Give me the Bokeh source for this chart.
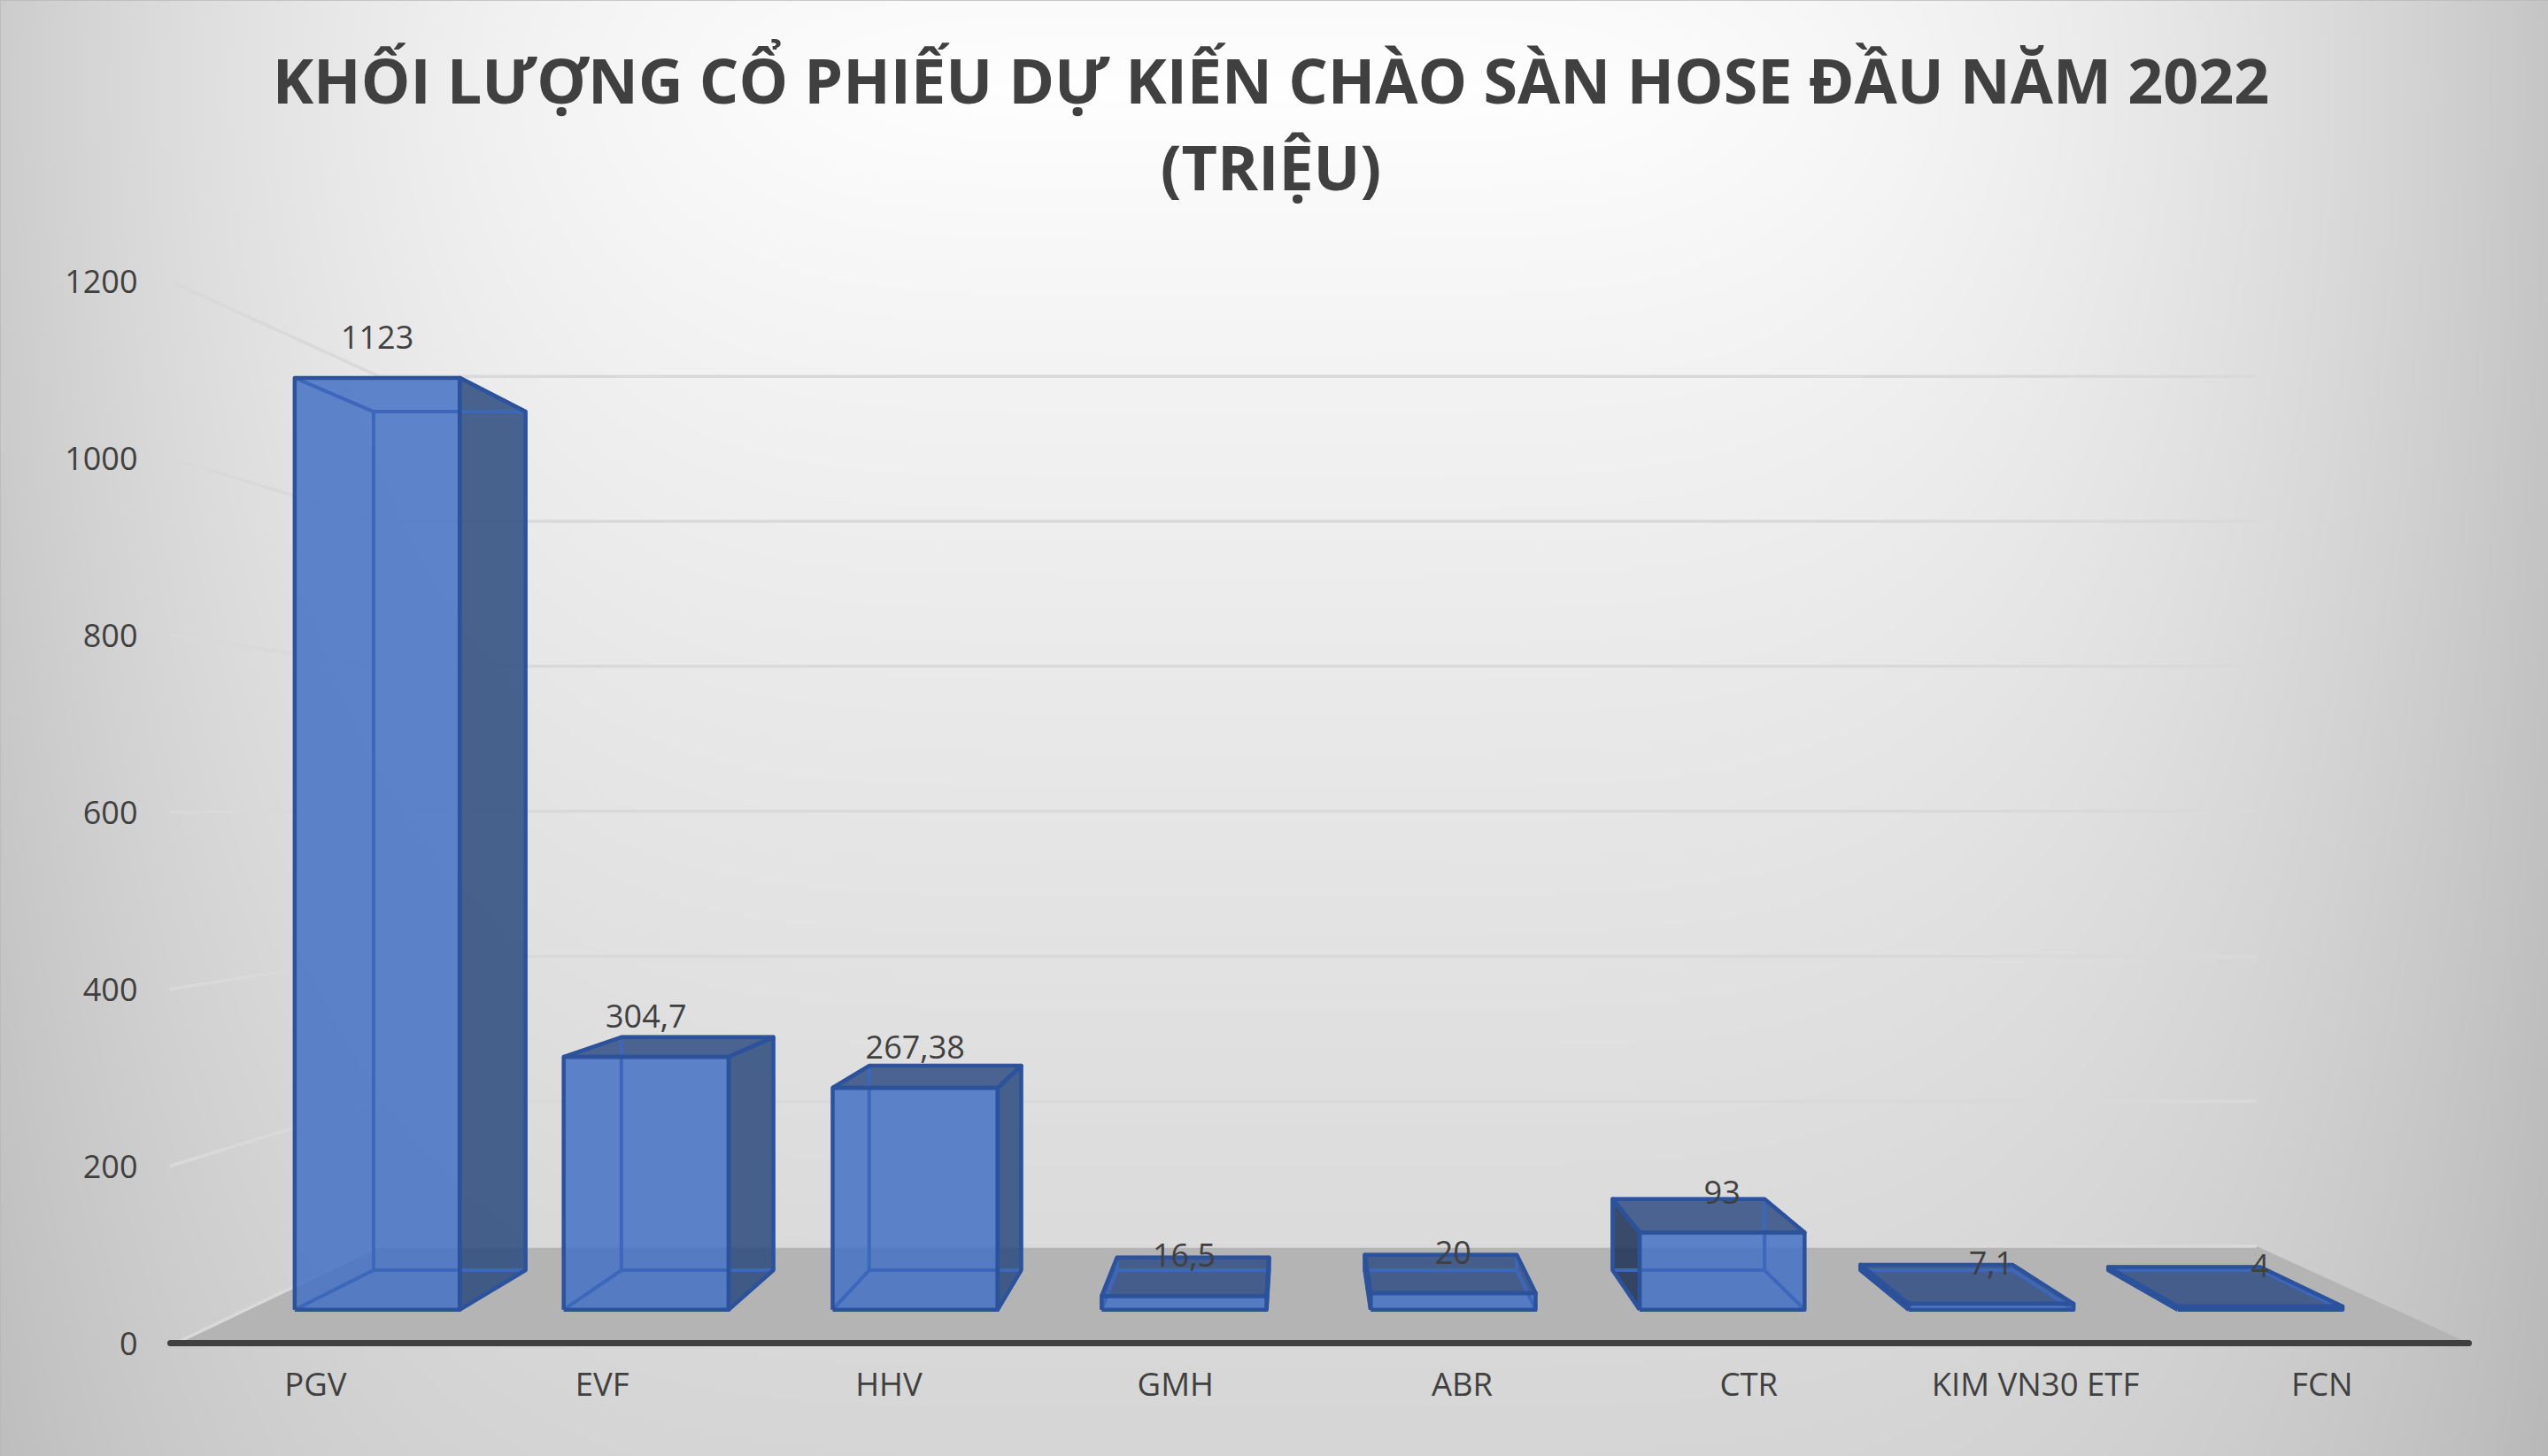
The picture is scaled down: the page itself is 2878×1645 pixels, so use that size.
import numpy as np
from bokeh.embed import file_html
from bokeh.models import ColumnDataSource, FixedTicker, Range1d
from bokeh.plotting import figure
from bokeh.resources import INLINE
from bokeh.core.properties import value

# ---------- data ----------
categories = ["PGV", "EVF", "HHV", "GMH", "ABR", "CTR", "KIM VN30 ETF", "FCN"]
volumes = [1123, 304.7, 267.38, 16.5, 20, 93, 7.1, 4]
volume_labels = ["1123", "304,7", "267,38", "16,5", "20", "93", "7,1", "4"]
y_ticks = [0, 200, 400, 600, 800, 1000, 1200]
title_lines = ["KHỐI LƯỢNG CỔ PHIẾU DỰ KIẾN CHÀO SÀN HOSE ĐẦU NĂM 2022", "(TRIỆU)"]

# ---------- page / scales ----------
W, H = 2878, 1645
PX_PER_CAT = 323.75
X0_PX, Y0_PX = 198.0, 1517.0          # where category 0 / value 0 lie in the picture
x_start = -X0_PX / PX_PER_CAT
x_end = (W - X0_PX) / PX_PER_CAT
y_end = Y0_PX
y_start = Y0_PX - H

# ---------- perspective of the 3-D box ----------
VC = (1464 - X0_PX) / PX_PER_CAT
VV = Y0_PX - 912
K_FRONT, K_BACK, K_WALL = 0.9375, 0.9375 * 0.9213, 0.819
BAR_CENTER, BAR_STEP, BAR_HALF = 0.489, 1.001, 0.307


def proj(c, v, k):
    return VC + k * (c - VC), VV + k * (v - VV)


p = figure(width=W, height=H, output_backend="svg", toolbar_location=None,
           x_range=Range1d(x_start, x_end), y_range=Range1d(y_start, y_end),
           min_border=0, outline_line_color="#b8b8b8", outline_line_width=5)
p.grid.visible = False

# ---------- radial background ----------
NY, NX = 411, 720
xx = np.linspace(0, W, NX)
yy = np.linspace(H, 0, NY)
gx, gy = np.meshgrid(xx, yy)
fall_x = 50 * (np.abs(gx - 1400) / 1400) ** 2.5
fall_y = 38 * (np.abs(gy - 100) / 1400) ** 0.8
shade = np.clip(255 - np.sqrt(fall_x ** 2 + fall_y ** 2), 0, 255).astype(np.uint32)
img = (255 << 24) | (shade << 16) | (shade << 8) | shade
p.image_rgba(image=[img], x=x_start, y=y_start, dw=x_end - x_start, dh=y_end - y_start)

# ---------- floor ----------
fl = [proj(0, 0, 1), proj(8, 0, 1), proj(8, 0, K_WALL), proj(0, 0, K_WALL)]
p.patch([a for a, _ in fl], [b for _, b in fl], fill_color="#b4b4b4", line_color=None)

# ---------- gridlines ----------
gx_l, gy_l = [], []
for t in y_ticks:
    c_edge = -0.02 if t else 0
    f = proj(c_edge, t, 1)
    b = proj(0, t, K_WALL)
    e = proj(8, t, K_WALL)
    gx_l.append([f[0], b[0], e[0]])
    gy_l.append([f[1], b[1], e[1]])
p.multi_line(gx_l, gy_l, line_color="#d9d9d9", line_width=3.5)

# ---------- bars ----------
FRONT, SIDE, LEFT, TOP = "#4472c4", "#2b4a7e", "#1c3056", "#314e84"
fx, fy, fc = [], [], []
inner_x, inner_y, outer_x, outer_y = [], [], [], []
centers = [BAR_CENTER + i * BAR_STEP for i in range(len(volumes))]
for mid, v in zip(centers, volumes):
    c1, c2 = mid - BAR_HALF, mid + BAR_HALF
    a = {}
    for nm, cc, vv, kk in [("flb", c1, 0, K_FRONT), ("frb", c2, 0, K_FRONT),
                           ("frt", c2, v, K_FRONT), ("flt", c1, v, K_FRONT),
                           ("blb", c1, 0, K_BACK), ("brb", c2, 0, K_BACK),
                           ("brt", c2, v, K_BACK), ("blt", c1, v, K_BACK)]:
        a[nm] = proj(cc, vv, kk)
    faces = []
    if a["brt"][0] > a["frt"][0]:
        faces.append((["frb", "frt", "brt", "brb"], SIDE))
    if a["blt"][0] < a["flt"][0]:
        faces.append((["flb", "flt", "blt", "blb"], LEFT))
    if a["blt"][1] > a["flt"][1]:
        faces.append((["flt", "frt", "brt", "blt"], TOP))
    faces.append((["flb", "frb", "frt", "flt"], FRONT))
    for names, col in faces:
        fx.append([a[n][0] for n in names])
        fy.append([a[n][1] for n in names])
        fc.append(col)
        outer_x.append([a[n][0] for n in names + names[:1]])
        outer_y.append([a[n][1] for n in names + names[:1]])
    for s, e in [("blb", "brb"), ("brb", "brt"), ("brt", "blt"), ("blt", "blb"),
                 ("flb", "blb"), ("frb", "brb"), ("frt", "brt"), ("flt", "blt")]:
        inner_x.append([a[s][0], a[e][0]])
        inner_y.append([a[s][1], a[e][1]])

p.patches(fx, fy, fill_color=fc, fill_alpha=0.85, line_color=None)
p.multi_line(inner_x, inner_y, line_color="#3c67ba", line_width=4)
p.multi_line(outer_x, outer_y, line_color="#2c529c", line_width=4.5, line_join="round")

# ---------- data labels ----------
lab_src = ColumnDataSource(dict(
    x=[proj(m, v, K_FRONT)[0] for m, v in zip(centers, volumes)],
    y=[proj(m, v, K_FRONT)[1] for m, v in zip(centers, volumes)],
    t=volume_labels))
p.text("x", "y", text="t", source=lab_src, y_offset=-46, text_align="center",
       text_baseline="middle", text_color="#404040", text_font=value("Open Sans"),
       text_font_size="36px")

# ---------- title ----------
title_x = (1435 - X0_PX) / PX_PER_CAT
p.text([title_x] * 2, [Y0_PX - 89, Y0_PX - 187], text=title_lines, text_align="center",
       text_baseline="middle", text_color="#404040", text_font=value("Open Sans"),
       text_font_style="bold", text_font_size="70px")

# ---------- axes ----------
xa = p.xaxis[0]
xa.fixed_location = 0
xa.bounds = (-0.02, 8)
xa.ticker = FixedTicker(ticks=[i + 0.488 for i in range(len(categories))])
xa.major_label_overrides = {i + 0.488: c for i, c in enumerate(categories)}
xa.axis_line_color = "#404040"
xa.axis_line_width = 7
xa.axis_line_cap = "round"
xa.major_tick_line_color = None
xa.minor_tick_line_color = None
xa.major_tick_in = 0
xa.major_tick_out = 0
xa.major_label_standoff = 20
xa.major_label_text_font = "Open Sans"
xa.major_label_text_font_size = "36.5px"
xa.major_label_text_color = "#404040"

ya = p.yaxis[0]
ya.fixed_location = (155 - X0_PX) / PX_PER_CAT
ya.ticker = FixedTicker(ticks=y_ticks)
ya.axis_line_color = None
ya.major_tick_line_color = None
ya.minor_tick_line_color = None
ya.major_tick_in = 0
ya.major_tick_out = 0
ya.major_label_standoff = 0
ya.major_label_text_font = "Open Sans"
ya.major_label_text_font_size = "36px"
ya.major_label_text_color = "#404040"

open("out.html", "w").write(file_html(p, INLINE))
